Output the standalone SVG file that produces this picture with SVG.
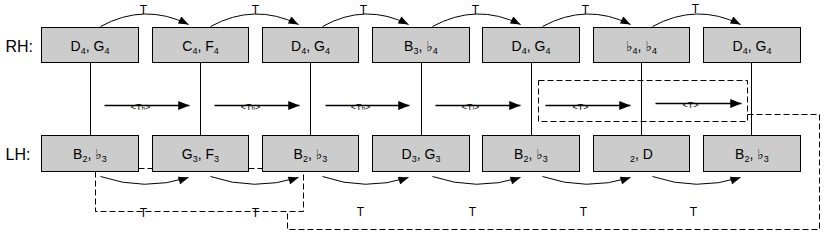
<svg xmlns="http://www.w3.org/2000/svg" width="827" height="239" viewBox="0 0 827 239">
<style>
.box{fill:#cccccc;stroke:#000;stroke-width:1}
.t{font-family:"Liberation Sans","DejaVu Sans",sans-serif;font-size:14px;fill:#000;text-anchor:middle}
.lab{font-family:"Liberation Sans","DejaVu Sans",sans-serif;font-size:16px;fill:#000}
.sm{font-family:"Liberation Sans","DejaVu Sans",sans-serif;font-size:12px;fill:#000;text-anchor:middle}
.xs{font-family:"Liberation Sans","DejaVu Sans",sans-serif;font-size:9px;fill:#000;text-anchor:middle}
.c{fill:none;stroke:#000;stroke-width:1}
.h{fill:none;stroke:#000;stroke-width:1.5}
.d{fill:none;stroke:#000;stroke-width:1;stroke-dasharray:6,3}
.v{stroke:#000;stroke-width:1}
.s{font-size:9px}
</style>
<defs>
<marker id="ah" viewBox="0 0 10 8" refX="10" refY="4" markerWidth="11" markerHeight="8" markerUnits="userSpaceOnUse" orient="auto">
<path d="M0,0 L10,4 L0,8 z" fill="#000"/>
</marker>
<marker id="ah2" viewBox="0 0 10 8" refX="10" refY="4" markerWidth="12" markerHeight="9" markerUnits="userSpaceOnUse" orient="auto">
<path d="M0,0 L10,4 L0,8 z" fill="#000"/>
</marker>
</defs>
<g transform="translate(0.5,0.5)">
<g id="dashed">
<path class="d" d="M95,171 L95,211 L303,211 L303,163"/>
<path class="d" d="M138,168 L152,168 M248,168 L262,168"/>
<path class="d" d="M747,114 L819,114 L819,229 L287,229 L287,211"/>
<rect class="d" x="538" y="80" width="209" height="41"/>
</g>
<g id="connectors">
<line class="v" x1="90" y1="62" x2="90" y2="135"/>
<line class="v" x1="200" y1="62" x2="200" y2="135"/>
<line class="v" x1="310" y1="62" x2="310" y2="135"/>
<line class="v" x1="421" y1="62" x2="421" y2="135"/>
<line class="v" x1="531" y1="62" x2="531" y2="135"/>
<line class="v" x1="641" y1="62" x2="641" y2="135"/>
<line class="v" x1="751" y1="62" x2="751" y2="135"/>
<g marker-end="url(#ah)">
<path class="c" d="M100,26 Q144,2 188,24"/>
<path class="c" d="M210,26 Q254,2 298,24"/>
<path class="c" d="M322,26 Q365,2 408,24"/>
<path class="c" d="M432,26 Q476,2 520,24"/>
<path class="c" d="M542,26 Q586,2 630,24"/>
<path class="c" d="M652,26 Q696,2 740,24"/>
<path class="c" d="M100,176 Q144,191 188,177"/>
<path class="c" d="M210,176 Q254,191 298,177"/>
<path class="c" d="M322,176 Q365,191 408,177"/>
<path class="c" d="M432,176 Q476,191 520,177"/>
<path class="c" d="M542,176 Q586,191 630,177"/>
<path class="c" d="M652,176 Q696,191 740,177"/>
</g>
<g marker-end="url(#ah2)">
<line class="h" x1="104" y1="105" x2="189" y2="105"/>
<line class="h" x1="214" y1="105" x2="299" y2="105"/>
<line class="h" x1="325" y1="105" x2="409" y2="105"/>
<line class="h" x1="435" y1="105" x2="520" y2="105"/>
<line class="h" x1="545" y1="105" x2="630" y2="105"/>
<line class="h" x1="655" y1="103" x2="741" y2="103"/>
</g>
</g>
<g id="connector-labels">
<text class="sm" x="143" y="13">T</text>
<text class="sm" x="255" y="13">T</text>
<text class="sm" x="363" y="13">T</text>
<text class="sm" x="475" y="13">T</text>
<text class="sm" x="585" y="13">T</text>
<text class="sm" x="695" y="12">T</text>
<text class="sm" x="143" y="216">T</text>
<text class="sm" x="255" y="216">T</text>
<text class="sm" x="360" y="215">T</text>
<text class="sm" x="472" y="215">T</text>
<text class="sm" x="583" y="215">T</text>
<text class="sm" x="693" y="215">T</text>
<text class="xs" x="140" y="109">&lt;Tₕ&gt;</text>
<text class="xs" x="250" y="109">&lt;Tₕ&gt;</text>
<text class="xs" x="360" y="109">&lt;Tₕ&gt;</text>
<text class="xs" x="470" y="109">&lt;Tₗ&gt;</text>
<text class="xs" x="580" y="109">&lt;T&gt;</text>
<text class="xs" x="690" y="107">&lt;T&gt;</text>
</g>
<text class="lab" x="5" y="51">RH:</text>
<text class="lab" x="5" y="159">LH:</text>
<g id="rh1"><rect class="box" x="41" y="27" width="97" height="35"/><text class="t" x="89.5" y="50">D<tspan class="s" dy="3">4</tspan><tspan dy="-3">, G</tspan><tspan class="s" dy="3">4</tspan></text></g>
<g id="rh2"><rect class="box" x="152" y="27" width="96" height="35"/><text class="t" x="200" y="50">C<tspan class="s" dy="3">4</tspan><tspan dy="-3">, F</tspan><tspan class="s" dy="3">4</tspan></text></g>
<g id="rh3"><rect class="box" x="262" y="27" width="96" height="35"/><text class="t" x="310" y="50">D<tspan class="s" dy="3">4</tspan><tspan dy="-3">, G</tspan><tspan class="s" dy="3">4</tspan></text></g>
<g id="rh4"><rect class="box" x="372" y="27" width="97" height="35"/><text class="t" x="420.5" y="50">B<tspan class="s" dy="3">3</tspan><tspan dy="-3">, ♭</tspan><tspan class="s" dy="3">4</tspan></text></g>
<g id="rh5"><rect class="box" x="482" y="27" width="97" height="35"/><text class="t" x="530.5" y="50">D<tspan class="s" dy="3">4</tspan><tspan dy="-3">, G</tspan><tspan class="s" dy="3">4</tspan></text></g>
<g id="rh6"><rect class="box" x="593" y="27" width="96" height="35"/><text class="t" x="641" y="50">♭<tspan class="s" dy="3">4</tspan><tspan dy="-3">, ♭</tspan><tspan class="s" dy="3">4</tspan></text></g>
<g id="rh7"><rect class="box" x="703" y="27" width="97" height="35"/><text class="t" x="751.5" y="50">D<tspan class="s" dy="3">4</tspan><tspan dy="-3">, G</tspan><tspan class="s" dy="3">4</tspan></text></g>
<g id="lh1"><rect class="box" x="41" y="135" width="97" height="36"/><text class="t" x="89.5" y="158">B<tspan class="s" dy="3">2</tspan><tspan dy="-3">, ♭</tspan><tspan class="s" dy="3">3</tspan></text></g>
<g id="lh2"><rect class="box" x="152" y="135" width="96" height="36"/><text class="t" x="200" y="158">G<tspan class="s" dy="3">3</tspan><tspan dy="-3">, F</tspan><tspan class="s" dy="3">3</tspan></text></g>
<g id="lh3"><rect class="box" x="262" y="135" width="96" height="36"/><text class="t" x="310" y="158">B<tspan class="s" dy="3">2</tspan><tspan dy="-3">, ♭</tspan><tspan class="s" dy="3">3</tspan></text></g>
<g id="lh4"><rect class="box" x="372" y="135" width="97" height="36"/><text class="t" x="420.5" y="158">D<tspan class="s" dy="3">3</tspan><tspan dy="-3">, G</tspan><tspan class="s" dy="3">3</tspan></text></g>
<g id="lh5"><rect class="box" x="482" y="135" width="97" height="36"/><text class="t" x="530.5" y="158">B<tspan class="s" dy="3">2</tspan><tspan dy="-3">, ♭</tspan><tspan class="s" dy="3">3</tspan></text></g>
<g id="lh6"><rect class="box" x="593" y="135" width="96" height="36"/><text class="t" x="641" y="158"><tspan class="s" dy="3">2</tspan><tspan dy="-3">, D</tspan></text></g>
<g id="lh7"><rect class="box" x="703" y="135" width="97" height="36"/><text class="t" x="751.5" y="158">B<tspan class="s" dy="3">2</tspan><tspan dy="-3">, ♭</tspan><tspan class="s" dy="3">3</tspan></text></g>
</g>
</svg>
